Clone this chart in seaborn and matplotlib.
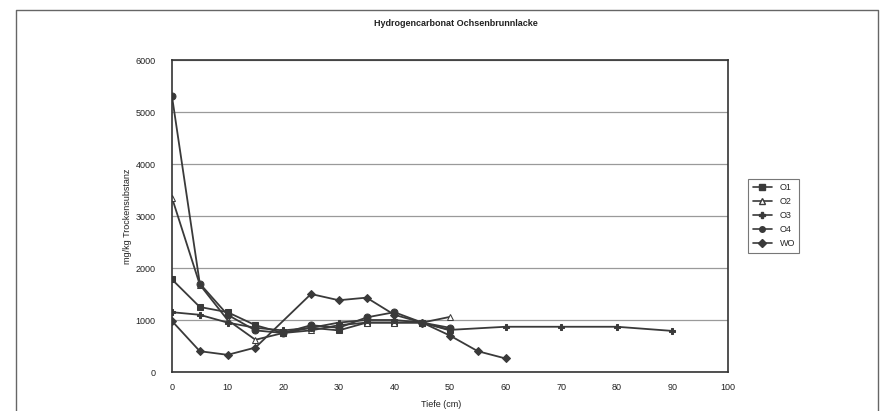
import matplotlib
matplotlib.use("Agg")
import matplotlib.pyplot as plt
import seaborn as sns
import pandas as pd
from matplotlib.lines import Line2D

# ---- data ----
series_names = ["O1", "O2", "O3", "O4", "WO"]
depth_O1 = [0, 5, 10, 15, 20, 25, 30, 35, 40, 45, 50]
vals_O1 = [1780, 1250, 1150, 900, 750, 850, 800, 950, 950, 950, 800]
depth_O2 = [0, 5, 10, 15, 20, 25, 30, 35, 40, 45, 50]
vals_O2 = [3350, 1680, 1000, 620, 750, 800, 900, 950, 950, 950, 1060]
depth_O3 = [0, 5, 10, 15, 20, 25, 30, 35, 40, 45, 50, 60, 70, 80, 90]
vals_O3 = [1150, 1100, 950, 850, 800, 850, 950, 1000, 1000, 950, 810, 870, 870, 870, 790]
depth_O4 = [0, 5, 10, 15, 20, 25, 30, 35, 40, 45, 50]
vals_O4 = [5300, 1700, 1100, 800, 750, 900, 850, 1050, 1150, 950, 850]
depth_WO = [0, 5, 10, 15, 25, 30, 35, 40, 45, 50, 55, 60]
vals_WO = [980, 400, 330, 470, 1500, 1380, 1430, 1100, 950, 700, 400, 260]

x_ticks = [0, 10, 20, 30, 40, 50, 60, 70, 80, 90, 100]
y_ticks = [0, 1000, 2000, 3000, 4000, 5000, 6000]
title = "Hydrogencarbonat Ochsenbrunnlacke"
x_label = "Tiefe (cm)"
y_label = "mg/kg Trockensubstanz"

frames = []
for name, d, v in [("O1", depth_O1, vals_O1), ("O2", depth_O2, vals_O2),
                   ("O3", depth_O3, vals_O3), ("O4", depth_O4, vals_O4),
                   ("WO", depth_WO, vals_WO)]:
    frames.append(pd.DataFrame({"Tiefe": d, "Wert": v, "Serie": name}))
df = pd.concat(frames, ignore_index=True)

sns.set_theme(style="white")
plt.rcParams["font.family"] = ["Liberation Sans", "DejaVu Sans"]

fig = plt.figure(figsize=(8.83, 4.11), dpi=100)
ax = fig.add_axes([172 / 883, 1 - 372 / 411, (728 - 172) / 883, (372 - 60) / 411])

line_color = "#3a3a3a"
palette = {n: line_color for n in series_names}
markers = {"O1": "s", "O2": "^", "O3": "P", "O4": "o", "WO": "D"}

sns.lineplot(data=df, x="Tiefe", y="Wert", hue="Serie", style="Serie",
             palette=palette, markers=markers, dashes=False, sort=False,
             linewidth=1.3, markersize=5, ax=ax, legend=False)

for ln, name in zip(ax.lines, series_names):
    ln.set_markeredgecolor(line_color)
    if name == "O2":
        ln.set_markerfacecolor("white")
    if name == "WO":
        ln.set_markersize(4.5)

ax.set_xlim(0, 100)
ax.set_ylim(0, 6000)
ax.set_xticks(x_ticks)
ax.set_yticks(y_ticks)
ax.tick_params(axis="y", labelsize=6.5, length=0, pad=12)
ax.tick_params(axis="x", labelsize=6.5, length=0, pad=8)
for lab in ax.get_xticklabels() + ax.get_yticklabels():
    lab.set_color("#222222")
ax.yaxis.grid(True, color="#9a9a9a", linewidth=0.9)
ax.xaxis.grid(False)
for sp in ax.spines.values():
    sp.set_color("#333333")
    sp.set_linewidth(1.2)
ax.set_xlabel(x_label, fontsize=6.5, color="#222222")
ax.xaxis.set_label_coords((441 - 172) / (728 - 172), -(404 - 372) / (372 - 60))
ax.xaxis.label.set_va("center")
ax.set_ylabel(y_label, fontsize=6.5, color="#222222")
ax.yaxis.set_label_coords(-(172 - 128) / (728 - 172), 0.5)
ax.yaxis.label.set_va("center")

fig.text(0.516, 1 - 24 / 411, title, ha="center", va="center", fontsize=6.5,
         fontweight="bold", color="#222222")

handles = []
for name in series_names:
    h = Line2D([0], [0], color=line_color, marker=markers[name], markersize=4,
               linewidth=1.2, markeredgecolor=line_color,
               markerfacecolor="white" if name == "O2" else line_color)
    handles.append(h)
leg = fig.legend(handles, series_names, loc="center left",
                 bbox_to_anchor=(0.842, 0.475), fontsize=6.5, frameon=True,
                 handlelength=2.2, labelspacing=0.55, borderpad=0.5,
                 fancybox=False, edgecolor="#555555")
leg.get_frame().set_linewidth(0.8)

# outer frame of the chart (left, top, right edges)
fx0, fx1, fy1 = 16 / 883, 878 / 883, 1 - 10 / 411
fig.add_artist(Line2D([fx0, fx0, fx1, fx1], [0.0, fy1, fy1, 0.0],
                      transform=fig.transFigure, color="#666666", linewidth=1.0))

fig.savefig("out.png", dpi=100, facecolor="white")
